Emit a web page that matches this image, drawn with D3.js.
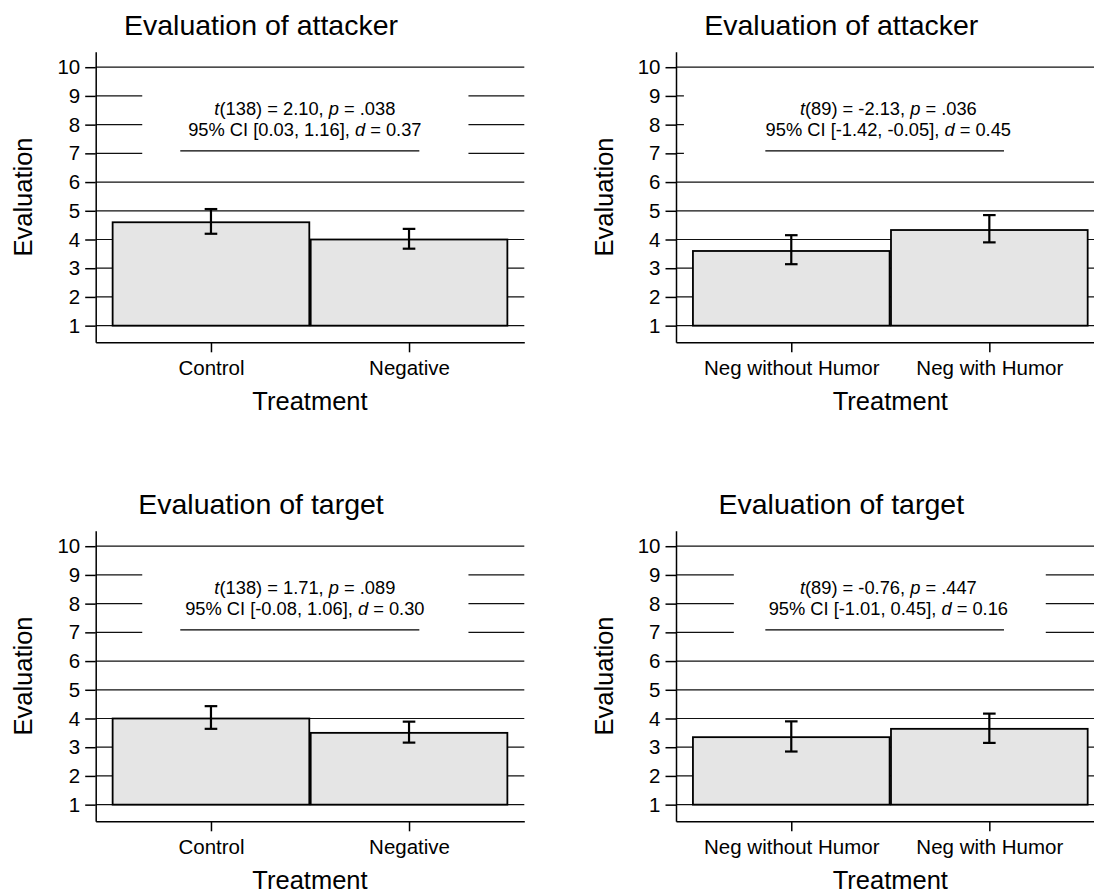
<!DOCTYPE html>
<html>
<head>
<meta charset="utf-8">
<script src="https://cdn.jsdelivr.net/npm/d3@7"></script>
<style>
  body { margin: 0; background: #fff; }
  svg { display: block; font-family: "Liberation Sans", Arial, Helvetica, sans-serif; }
</style>
</head>
<body>
<div id="chart"></div>
<script>
// categories
const study1Groups = ["Control", "Negative"];
const study2Groups = ["Neg without Humor", "Neg with Humor"];
const yTicks = [1, 2, 3, 4, 5, 6, 7, 8, 9, 10];

// means and 95% CI bounds
const attacker1Mean = [4.6, 4.0];
const attacker1Low = [4.2, 3.68];
const attacker1High = [5.06, 4.37];

const attacker2Mean = [3.6, 4.33];
const attacker2Low = [3.14, 3.9];
const attacker2High = [4.15, 4.85];

const target1Mean = [4.0, 3.5];
const target1Low = [3.64, 3.16];
const target1High = [4.43, 3.89];

const target2Mean = [3.35, 3.64];
const target2Low = [2.85, 3.15];
const target2High = [3.9, 4.17];

// test statistics shown above the bars (single letters are italic)
const attacker1Stats = [["t", "(138) = 2.10, ", "p", " = .038"], ["95% CI [0.03, 1.16], ", "d", " = 0.37"]];
const attacker2Stats = [["t", "(89) = -2.13, ", "p", " = .036"], ["95% CI [-1.42, -0.05], ", "d", " = 0.45"]];
const target1Stats = [["t", "(138) = 1.71, ", "p", " = .089"], ["95% CI [-0.08, 1.06], ", "d", " = 0.30"]];
const target2Stats = [["t", "(89) = -0.76, ", "p", " = .447"], ["95% CI [-1.01, 0.45], ", "d", " = 0.16"]];

const W = 1094, H = 894;
const font = "'Liberation Sans', Arial, Helvetica, sans-serif";

const svg = d3.select("#chart").append("svg")
  .attr("width", W)
  .attr("height", H);

// x is numeric in group units (1, 2), like Stata's over() axis
const x = d3.scaleLinear().domain([0.418, 2.582]).range([95.7, 524.3]);
const y = d3.scaleLinear().domain([0.42, 10.54]).range([342.3, 51.7]);

function panel(opts) {
  const g = svg.append("g").attr("transform", `translate(${opts.dx},${opts.dy})`);
  const rows = opts.mean.map((m, i) => ({ i: i + 1, m: m, lo: opts.low[i], hi: opts.high[i] }));

  // title
  g.append("text")
    .attr("x", 261).attr("y", 35)
    .attr("text-anchor", "middle")
    .style("font-size", "28.5px")
    .text(opts.title);

  // gridlines
  g.append("g").selectAll("line")
    .data(yTicks)
    .enter().append("line")
    .attr("x1", x.range()[0]).attr("x2", x.range()[1])
    .attr("y1", d => y(d)).attr("y2", d => y(d))
    .attr("stroke", "#111")
    .attr("stroke-width", 1.2);

  // white box behind the annotation text
  g.append("rect")
    .attr("x", x(opts.box[0]))
    .attr("width", x(opts.box[1]) - x(opts.box[0]))
    .attr("y", y(9.55))
    .attr("height", y(6.5) - y(9.55))
    .attr("fill", "#fff");

  // annotation
  const ann = g.append("text")
    .attr("text-anchor", "middle")
    .style("font-size", "18.3px");
  opts.stats.forEach((line, li) => {
    const t = ann.append("tspan")
      .attr("x", x(opts.textX))
      .attr("y", y(li === 0 ? 8.35 : 7.62));
    line.forEach(part => {
      const italic = part.length === 1;
      if (italic) {
        t.append("tspan").style("font-style", "italic").text(part);
      } else {
        t.append("tspan").text(part);
      }
    });
  });
  g.append("line")
    .attr("x1", x(opts.bracket[0])).attr("x2", x(opts.bracket[1]))
    .attr("y1", y(7.085)).attr("y2", y(7.085))
    .attr("stroke", "#000")
    .attr("stroke-width", 1.4);

  // bars
  const bw = 0.993;
  g.append("g").selectAll("rect")
    .data(rows)
    .enter().append("rect")
    .attr("x", d => x(d.i - bw / 2))
    .attr("width", x(bw) - x(0))
    .attr("y", d => y(d.m))
    .attr("height", d => y(1) - y(d.m))
    .attr("fill", "#e5e5e5")
    .attr("stroke", "#000")
    .attr("stroke-width", 1.8);

  // error bars
  const cap = 6.3;
  const eb = g.append("g").attr("stroke", "#000").attr("stroke-width", 2.2);
  eb.selectAll(".v").data(rows).enter().append("line")
    .attr("x1", d => x(d.i)).attr("x2", d => x(d.i))
    .attr("y1", d => y(d.lo)).attr("y2", d => y(d.hi));
  eb.selectAll(".t").data(rows).enter().append("line")
    .attr("x1", d => x(d.i) - cap).attr("x2", d => x(d.i) + cap)
    .attr("y1", d => y(d.hi)).attr("y2", d => y(d.hi));
  eb.selectAll(".b").data(rows).enter().append("line")
    .attr("x1", d => x(d.i) - cap).attr("x2", d => x(d.i) + cap)
    .attr("y1", d => y(d.lo)).attr("y2", d => y(d.lo));

  // y axis
  const yAxis = g.append("g")
    .attr("transform", `translate(${x.range()[0]},0)`)
    .call(d3.axisLeft(y).tickValues(yTicks).tickSize(10.5).tickSizeOuter(0).tickPadding(5));
  // x axis
  const xAxis = g.append("g")
    .attr("transform", `translate(0,${y.range()[0]})`)
    .call(d3.axisBottom(x).tickValues([1, 2]).tickSize(10).tickSizeOuter(0)
      .tickFormat(d => opts.groups[d - 1]));

  [yAxis, xAxis].forEach(a => {
    a.select(".domain").attr("stroke", "#000").attr("stroke-width", 1.5);
    a.selectAll(".tick line").attr("stroke", "#000").attr("stroke-width", 1.5);
    a.selectAll("text").attr("fill", "#000").style("font-family", font).style("font-size", "20.5px");
  });
  xAxis.selectAll(".tick text").attr("y", 32.8).attr("dy", 0);

  // axis titles
  g.append("text")
    .attr("x", (x.range()[0] + x.range()[1]) / 2)
    .attr("y", y.range()[0] + 67.2)
    .attr("text-anchor", "middle")
    .style("font-size", "25.5px")
    .text("Treatment");
  g.append("text")
    .attr("transform", `translate(23.5,${(y.range()[0] + y.range()[1]) / 2}) rotate(-90)`)
    .attr("text-anchor", "middle")
    .attr("dy", "0.35em")
    .style("font-size", "25.5px")
    .text("Evaluation");
}

panel({ dx: 0, dy: 0, title: "Evaluation of attacker", groups: study1Groups,
  mean: attacker1Mean, low: attacker1Low, high: attacker1High, stats: attacker1Stats,
  box: [0.653, 2.30], bracket: [0.845, 2.052], textX: 1.474 });
panel({ dx: 580.3, dy: 0, title: "Evaluation of attacker", groups: study2Groups,
  mean: attacker2Mean, low: attacker2Low, high: attacker2High, stats: attacker2Stats,
  box: [0.458, 2.7], bracket: [0.869, 2.074], textX: 1.49 });
panel({ dx: 0, dy: 479, title: "Evaluation of target", groups: study1Groups,
  mean: target1Mean, low: target1Low, high: target1High, stats: target1Stats,
  box: [0.653, 2.30], bracket: [0.845, 2.052], textX: 1.474 });
panel({ dx: 580.3, dy: 479, title: "Evaluation of target", groups: study2Groups,
  mean: target2Mean, low: target2Low, high: target2High, stats: target2Stats,
  box: [0.71, 2.285], bracket: [0.869, 2.074], textX: 1.49 });
</script>
</body>
</html>
